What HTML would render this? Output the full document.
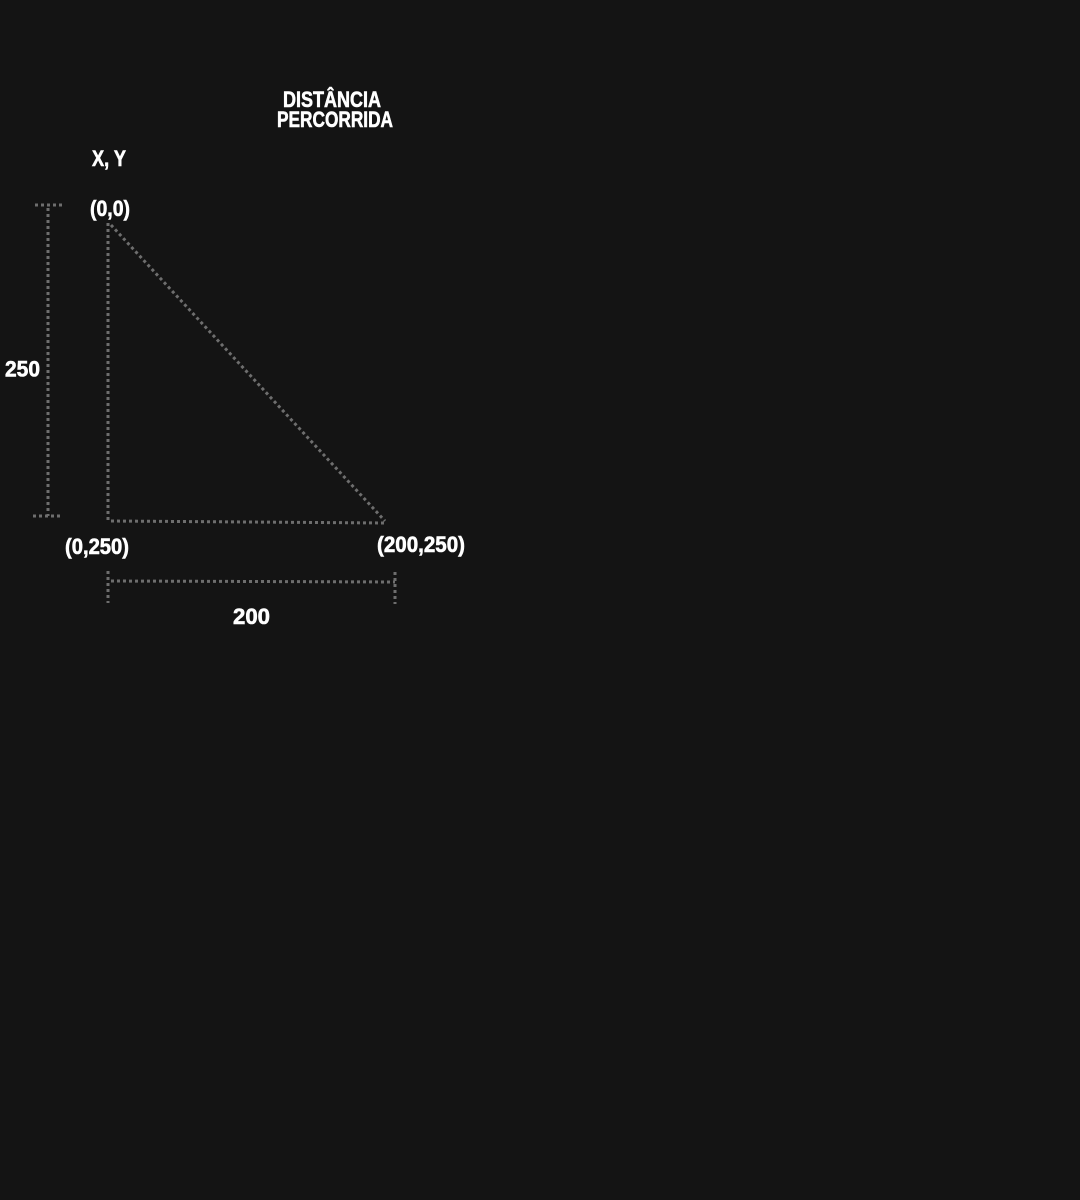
<!DOCTYPE html>
<html><head><meta charset="utf-8">
<style>
html,body{margin:0;padding:0;background:#141414;width:1080px;height:1200px;overflow:hidden}
svg{position:absolute;left:0;top:0}
text{font-family:"Liberation Sans Narrow","Liberation Sans",sans-serif;font-weight:bold;fill:#fff;stroke:#fff;stroke-width:0.6;paint-order:stroke}
</style></head>
<body>
<svg id="chart" width="1080" height="1200">
<text x="283" y="107" textLength="98" lengthAdjust="spacingAndGlyphs" font-size="22">DISTÂNCIA</text>
<text x="277" y="127" textLength="116" lengthAdjust="spacingAndGlyphs" font-size="22">PERCORRIDA</text>
<text x="92" y="166" textLength="34" lengthAdjust="spacingAndGlyphs" font-size="22">X, Y</text>
</svg>
<script>
const pointLabels = ["(0,0)", "(0,250)", "(200,250)"];
const pointX = [0, 0, 200];
const pointY = [0, 250, 250];
const dimValues = ["250", "200"];

const svg = document.getElementById('chart');
const NS = 'http://www.w3.org/2000/svg';
const xS = v => 108 + v * (277 / 200);
const yS = v => 223 + v * (298 / 250);
const dot = {stroke:'#6e6e6e','stroke-width':3,'stroke-dasharray':'3 3',fill:'none'};
function line(x1,y1,x2,y2,name){
  const l=document.createElementNS(NS,'line');
  l.setAttribute('x1',x1);l.setAttribute('y1',y1);l.setAttribute('x2',x2);l.setAttribute('y2',y2);
  for(const k in dot) l.setAttribute(k,dot[k]);
  
  
  svg.appendChild(l);
}
function text(x,y,s,name,w){
  const t=document.createElementNS(NS,'text');
  t.setAttribute('x',x);t.setAttribute('y',y);t.setAttribute('font-size','22');
  t.setAttribute('textLength',w);t.setAttribute('lengthAdjust','spacingAndGlyphs');
  t.textContent=s;
  
  
  svg.appendChild(t);
}
// triangle sides
line(xS(pointX[0]),yS(pointY[0]),xS(pointX[1]),yS(pointY[1]),'vertical-side');
line(xS(pointX[1])+3,yS(pointY[1]),xS(pointX[2]),yS(pointY[2])+2,'horizontal-side');
line(xS(pointX[0])+3,yS(pointY[0])+2,xS(pointX[2]),yS(pointY[2]),'hypotenuse');
// point labels
text(xS(pointX[0])-18,yS(pointY[0])-7,pointLabels[0],'point-label-origin',40);
text(xS(pointX[1])-43,yS(pointY[1])+33,pointLabels[1],'point-label-bottom-left',64);
text(xS(pointX[2])-8,yS(pointY[2])+31,pointLabels[2],'point-label-bottom-right',88);
// vertical dimension
const vTop=yS(pointY[0])-18, vBot=yS(pointY[1])-5;
line(48,vTop+3,48,vBot,'height-dimension-line');
line(35,vTop,63,vTop,'height-dimension-top-tick');
line(33,vBot,61,vBot,'height-dimension-bottom-tick');
text(5,(vTop+vBot)/2+16,dimValues[0],'height-value',35);
// horizontal dimension
const hL=xS(pointX[1]), hR=xS(pointX[2])+10, hY=yS(pointY[1])+60;
line(hL+3,hY,hR,hY+1,'width-dimension-line');
line(hL,hY-10,hL,hY+22,'width-dimension-left-tick');
line(hR,hY-9,hR,hY+23,'width-dimension-right-tick');
text(233,hY+43,dimValues[1],'width-value',37);
</script>
</body></html>
